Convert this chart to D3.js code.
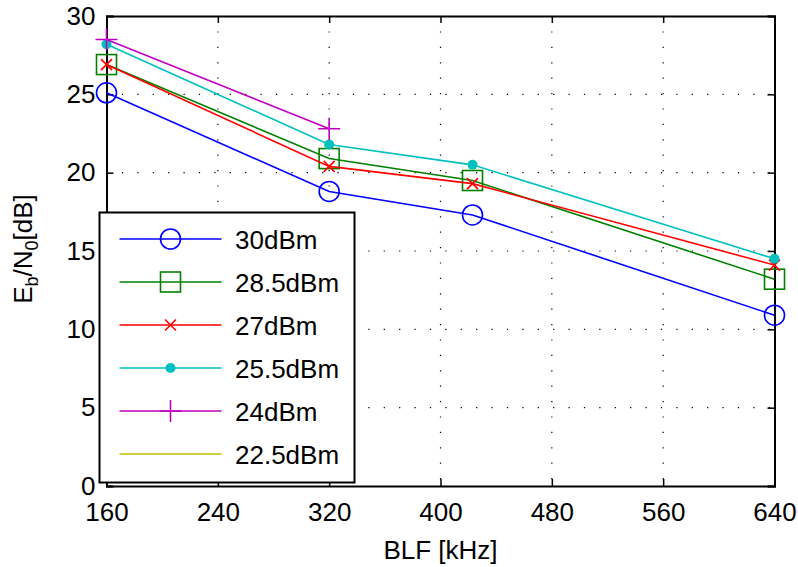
<!DOCTYPE html>
<html>
<head>
<meta charset="utf-8">
<script src="https://cdn.jsdelivr.net/npm/d3@7"></script>
<style>
  body { margin: 0; background: #fff; }
  text { font-family: "Liberation Sans", Arial, Helvetica, sans-serif; fill: #000; }
</style>
</head>
<body>
<div id="chart"></div>
<script>
// BLF values (kHz)
const blf = [160, 320, 423, 640];
const xTicks = [160, 240, 320, 400, 480, 560, 640];
const yTicks = [0, 5, 10, 15, 20, 25, 30];

// Eb/N0 [dB] per reader power
const labels = ['30dBm', '28.5dBm', '27dBm', '25.5dBm', '24dBm', '22.5dBm'];
const s30 = [25.1, 18.8, 17.3, 10.9];
const s285 = [26.9, 20.9, 19.5, 13.2];
const s27 = [26.9, 20.4, 19.3, 14.1];
const s255 = [28.2, 21.8, 20.5, 14.5];
const s24 = [28.5, 22.8];
const s225 = [];

const series = [
  { name: labels[0], values: s30, color: '#0000ff', marker: 'circle' },
  { name: labels[1], values: s285, color: '#008000', marker: 'square' },
  { name: labels[2], values: s27, color: '#ff0000', marker: 'x' },
  { name: labels[3], values: s255, color: '#00bfbf', marker: 'dot' },
  { name: labels[4], values: s24, color: '#bf00bf', marker: 'plus' },
  { name: labels[5], values: s225, color: '#bfbf00', marker: 'none' }
];

const W = 798, H = 567;
const m = { left: 106.5, right: 798 - 774.5, top: 16, bottom: 567 - 486 };
const fs = 26;

const svg = d3.select('#chart')
  .append('svg')
  .attr('width', W)
  .attr('height', H);

const x = d3.scaleLinear().domain([160, 640]).range([m.left, W - m.right]);
const y = d3.scaleLinear().domain([0, 30]).range([H - m.bottom, m.top]);

// dotted grid
const grid = svg.append('g');
grid.selectAll('.gx')
  .data(xTicks.slice(1, -1))
  .enter()
  .append('line')
  .attr('x1', d => x(d)).attr('x2', d => x(d))
  .attr('y1', y(30)).attr('y2', y(0))
  .attr('stroke', '#000')
  .attr('stroke-width', 1.2)
  .attr('stroke-dasharray', '1.2,14.2');
grid.selectAll('.gy')
  .data(yTicks.slice(1, -1))
  .enter()
  .append('line')
  .attr('x1', x(160)).attr('x2', x(640))
  .attr('y1', d => y(d)).attr('y2', d => y(d))
  .attr('stroke', '#000')
  .attr('stroke-width', 1.2)
  .attr('stroke-dasharray', '1.2,14.2');

// axes (inward ticks, box on all sides)
const tick = 7;
svg.append('g')
  .attr('transform', `translate(0,${y(0)})`)
  .call(d3.axisBottom(x).tickValues(xTicks).tickSize(-tick).tickPadding(17))
  .call(g => g.selectAll('text').attr('font-size', fs));
svg.append('g')
  .attr('transform', `translate(0,${y(30)})`)
  .call(d3.axisTop(x).tickValues(xTicks).tickSize(-tick).tickFormat(''));
svg.append('g')
  .attr('transform', `translate(${x(160)},0)`)
  .call(d3.axisLeft(y).tickValues(yTicks).tickSize(-tick).tickPadding(11))
  .call(g => g.selectAll('text').attr('font-size', fs));
svg.append('g')
  .attr('transform', `translate(${x(640)},0)`)
  .call(d3.axisRight(y).tickValues(yTicks).tickSize(-tick).tickFormat(''));

svg.selectAll('.domain').attr('stroke', '#000').attr('stroke-width', 2);
svg.selectAll('.tick line').attr('stroke', '#000').attr('stroke-width', 1.5);
svg.selectAll('.tick text').attr('fill', '#000')
  .style('font-family', '"Liberation Sans", Arial, sans-serif');

// axis labels
svg.append('text')
  .attr('x', (x(160) + x(640)) / 2)
  .attr('y', 559)
  .attr('text-anchor', 'middle')
  .attr('font-size', fs)
  .text('BLF [kHz]');

const yl = svg.append('text')
  .attr('transform', `translate(32,249) rotate(-90)`)
  .attr('text-anchor', 'middle')
  .attr('font-size', fs);
yl.append('tspan').text('E');
yl.append('tspan').attr('font-size', 18).attr('dy', 6).text('b');
yl.append('tspan').attr('dy', -6).text('/N');
yl.append('tspan').attr('font-size', 18).attr('dy', 6).text('0');
yl.append('tspan').attr('dy', -6).text('[dB]');

function drawMarker(g, type, cx, cy, color) {
  if (type === 'circle') {
    g.append('circle').attr('cx', cx).attr('cy', cy).attr('r', 10)
      .attr('fill', 'none').attr('stroke', color).attr('stroke-width', 1.6);
  } else if (type === 'square') {
    g.append('rect').attr('x', cx - 10).attr('y', cy - 10).attr('width', 20).attr('height', 20)
      .attr('fill', 'none').attr('stroke', color).attr('stroke-width', 1.6);
  } else if (type === 'x') {
    const s = 5.5;
    g.append('path')
      .attr('d', `M${cx - s},${cy - s}L${cx + s},${cy + s}M${cx - s},${cy + s}L${cx + s},${cy - s}`)
      .attr('stroke', color).attr('stroke-width', 1.6);
  } else if (type === 'dot') {
    g.append('circle').attr('cx', cx).attr('cy', cy).attr('r', 5).attr('fill', color);
  } else if (type === 'plus') {
    const s = 11;
    g.append('path')
      .attr('d', `M${cx - s},${cy}L${cx + s},${cy}M${cx},${cy - s}L${cx},${cy + s}`)
      .attr('stroke', color).attr('stroke-width', 1.6);
  }
}

// series
const line = d3.line().x((d, i) => x(blf[i])).y(d => y(d));
series.forEach(s => {
  const g = svg.append('g');
  if (s.values.length > 1) {
    g.append('path')
      .attr('d', line(s.values))
      .attr('fill', 'none')
      .attr('stroke', s.color)
      .attr('stroke-width', 1.6);
  }
  s.values.forEach((v, i) => drawMarker(g, s.marker, x(blf[i]), y(v), s.color));
});

// legend
const lg = svg.append('g');
lg.append('rect')
  .attr('x', 99.5).attr('y', 212.5)
  .attr('width', 255).attr('height', 270)
  .attr('fill', '#fff')
  .attr('stroke', '#000')
  .attr('stroke-width', 2);
series.forEach((s, i) => {
  const ry = 239 + i * 43;
  lg.append('line')
    .attr('x1', 119.5).attr('x2', 221.5)
    .attr('y1', ry).attr('y2', ry)
    .attr('stroke', s.color).attr('stroke-width', 1.6);
  drawMarker(lg, s.marker, 170.5, ry, s.color);
  lg.append('text')
    .attr('x', 235).attr('y', ry + 9.5)
    .attr('font-size', fs)
    .text(s.name);
});
</script>
</body>
</html>
